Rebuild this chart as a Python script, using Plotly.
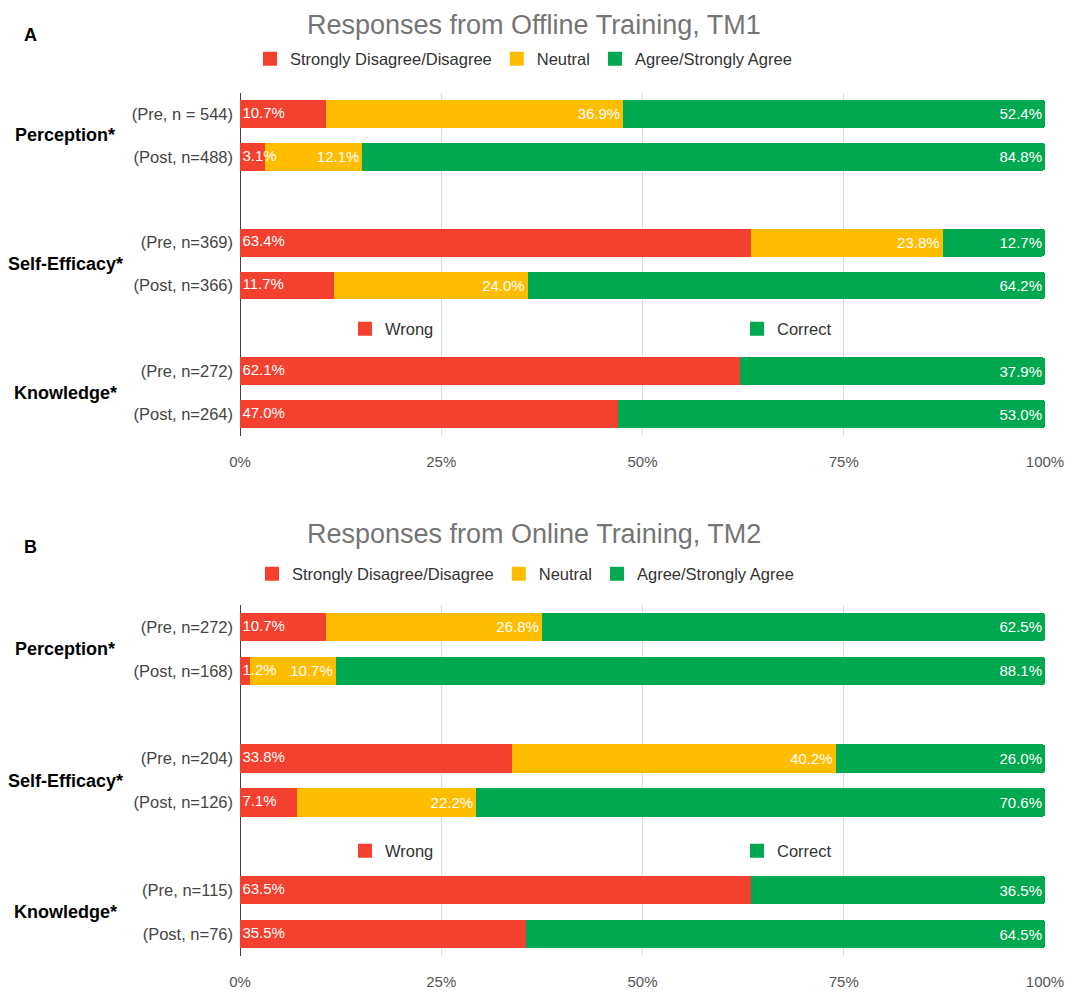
import plotly.graph_objects as go

# ---------------- data ----------------
titles = ["Responses from Offline Training, TM1", "Responses from Online Training, TM2"]
groups = ["Perception*", "Self-Efficacy*", "Knowledge*"]

tick_text_a = ["(Pre, n = 544)", "(Post, n=488)", "(Pre, n=369)", "(Post, n=366)",
               "(Pre, n=272)", "(Post, n=264)"]
tick_text_b = ["(Pre, n=272)", "(Post, n=168)", "(Pre, n=204)", "(Post, n=126)",
               "(Pre, n=115)", "(Post, n=76)"]

# likert rows: perception pre/post, self-efficacy pre/post
disagree_a = [10.7, 3.1, 63.4, 11.7]
neutral_a = [36.9, 12.1, 23.8, 24.0]
agree_a = [52.4, 84.8, 12.7, 64.2]
disagree_b = [10.7, 1.2, 33.8, 7.1]
neutral_b = [26.8, 10.7, 40.2, 22.2]
agree_b = [62.5, 88.1, 26.0, 70.6]

# knowledge rows: pre/post
wrong_a = [62.1, 47.0]
correct_a = [37.9, 53.0]
wrong_b = [63.5, 35.5]
correct_b = [36.5, 64.5]

x_ticks = [0, 25, 50, 75, 100]

# ---------------- style ----------------
RED = "#F4402F"
YELLOW = "#FFBD00"
GREEN = "#00A84F"
FONT = "Liberation Sans, Arial, sans-serif"
W, H = 1072, 996
OFF = 8  # page body margin, screenshot px -> figure px

likert_rows = [0, 1, 3, 4]
know_rows = [6, 7]
tick_rows = [0, 1, 3, 4, 6, 7]

# plot area in screenshot pixels: x 240..1045
ML = 240 - OFF
MR = W - (1045 - OFF)
PW = W - ML - MR


def py(px):
    return 1 - (px - OFF) / H


def pxx(px):
    return (px - OFF - ML) / PW


fig = go.Figure()


def add_bar(vals, rows, name, color, xa, ya, leg, label=True):
    fig.add_trace(go.Bar(
        x=vals, y=rows, orientation="h", name=name,
        marker=dict(color=color, line=dict(width=0)),
        text=vals, texttemplate="%{text:.1f}%",
        textposition="inside" if label else "none", insidetextanchor="end",
        textfont=dict(color="white", size=15, family=FONT),
        textangle=0, width=0.65,
        xaxis=xa, yaxis=ya, showlegend=False,
        hoverinfo="skip",
    ))
    # legend entry with a bigger square swatch
    fig.add_trace(go.Scatter(
        x=[None], y=[None], mode="markers", name=name,
        marker=dict(symbol="square", size=14, color=color, line=dict(width=0)),
        xaxis=xa, yaxis=ya, legend=leg, hoverinfo="skip",
    ))


def add_left_labels(vals, rows, xa, ya):
    # labels of the first (red) segment, drawn on top so short ones can overflow
    fig.add_trace(go.Scatter(
        x=[0.3] * len(vals), y=rows, mode="text",
        text=[f"{v:.1f}%" for v in vals], textposition="middle right",
        textfont=dict(color="white", size=15, family=FONT),
        xaxis=xa, yaxis=ya, showlegend=False, hoverinfo="skip", cliponaxis=False,
    ))


data = [
    (disagree_a, neutral_a, agree_a, wrong_a, correct_a, "x", "y", ["legend", "legend2", "legend3"]),
    (disagree_b, neutral_b, agree_b, wrong_b, correct_b, "x2", "y2", ["legend4", "legend5", "legend6"]),
]
for d, n, a, w, c, xa, ya, legs in data:
    add_bar(d, likert_rows, "Strongly Disagree/Disagree", RED, xa, ya, legs[0], label=False)
    add_bar(n, likert_rows, "Neutral", YELLOW, xa, ya, legs[0])
    add_bar(a, likert_rows, "Agree/Strongly Agree", GREEN, xa, ya, legs[0])
    add_bar(w, know_rows, "Wrong", RED, xa, ya, legs[1], label=False)
    add_bar(c, know_rows, "Correct", GREEN, xa, ya, legs[2])
    add_left_labels(d + w, likert_rows + know_rows, xa, ya)

xaxis_style = dict(
    range=[0, 100], tickvals=x_ticks, ticktext=[f"{t}%" for t in x_ticks],
    showgrid=True, gridcolor="#dcdcdc", gridwidth=1,
    zeroline=True, zerolinecolor="#444", zerolinewidth=1,
    ticks="outside", ticklen=12, tickcolor="rgba(0,0,0,0)",
    tickfont=dict(size=15, color="#555", family=FONT),
    showline=False, fixedrange=True,
)
yaxis_style = dict(
    range=[7.5, -0.5], tickvals=tick_rows, showgrid=False, zeroline=False,
    tickfont=dict(size=16.5, color="#444", family=FONT), ticks="", ticklabelstandoff=6,
    fixedrange=True,
)

legend_font = dict(size=16.5, color="#333", family=FONT)


def leg(x, y):
    return dict(orientation="h", x=pxx(x), xanchor="left", y=py(y), yanchor="middle",
                font=legend_font, bgcolor="rgba(0,0,0,0)", traceorder="normal",
                itemsizing="trace", itemclick=False, itemdoubleclick=False)


fig.update_layout(
    width=W, height=H,
    margin=dict(l=ML, r=MR, t=0, b=0),
    paper_bgcolor="white", plot_bgcolor="white",
    barmode="stack", barnorm="percent", barcornerradius=3,
    uniformtext=dict(mode="show", minsize=15),
    font=dict(family=FONT),
    xaxis=dict(xaxis_style, anchor="y", domain=[0, 1]),
    yaxis=dict(yaxis_style, anchor="x", domain=[py(435.5), py(92.5)], ticktext=tick_text_a),
    xaxis2=dict(xaxis_style, anchor="y2", domain=[0, 1]),
    yaxis2=dict(yaxis_style, anchor="x2", domain=[py(956), py(605)], ticktext=tick_text_b),
    legend=leg(250, 59),
    legend2=leg(345, 329),
    legend3=leg(737, 329),
    legend4=leg(252, 574),
    legend5=leg(345, 851),
    legend6=leg(737, 851),
)

annotations = []
for letter, title, ty, ly, yref in [("A", titles[0], 8, 35, "y"), ("B", titles[1], 517, 547, "y2")]:
    annotations.append(dict(text=title, xref="paper", yref="paper", x=pxx(534), y=py(ty),
                            xanchor="center", yanchor="top", showarrow=False,
                            font=dict(size=27, color="#757575", family=FONT)))
    annotations.append(dict(text=f"<b>{letter}</b>", xref="paper", yref="paper", x=pxx(22),
                            y=py(ly), xanchor="left", yanchor="middle", showarrow=False,
                            font=dict(size=18, color="black", family=FONT)))
    for g, row in zip(groups, [0.5, 3.5, 6.5]):
        annotations.append(dict(text=f"<b>{g}</b>", xref="paper", yref=yref, x=pxx(65), y=row,
                                xanchor="center", yanchor="middle", showarrow=False,
                                font=dict(size=18, color="black", family=FONT)))
fig.update_layout(annotations=annotations)

fig.write_html("out.html")
